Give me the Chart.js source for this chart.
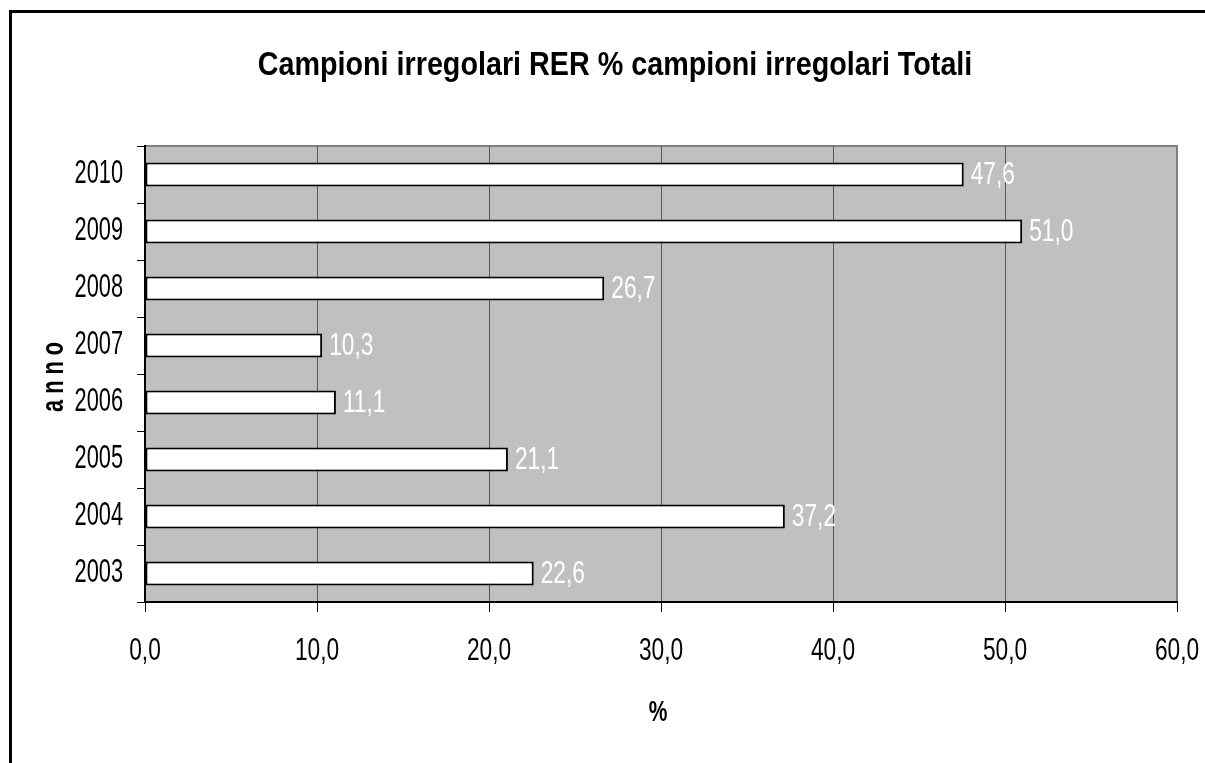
<!DOCTYPE html>
<html>
<head>
<meta charset="utf-8">
<script src="https://cdn.jsdelivr.net/npm/chart.js@4.4.1/dist/chart.umd.min.js"></script>
<style>
  html, body { margin: 0; padding: 0; background: #fff; overflow: hidden; }
  #wrap { position: relative; width: 1205px; height: 763px; overflow: hidden; }
  #frame { position: absolute; left: 9px; top: 10px; width: 1300px; height: 900px; border: 3px solid #000; pointer-events: none; }
</style>
</head>
<body>
<div id="wrap">
  <canvas id="chart" width="1205" height="763"></canvas>
  <div id="frame"></div>
</div>
<script>
// Data
const years = ['2003', '2004', '2005', '2006', '2007', '2008', '2009', '2010'];
const values = [22.6, 37.2, 21.1, 11.1, 10.3, 26.7, 51.0, 47.6];
const xTicks = [0, 10, 20, 30, 40, 50, 60];

const chartTitle = 'Campioni irregolari RER % campioni irregolari Totali';
const xTitle = '%';
const yTitle = 'a n n o';

const FONT = "'Liberation Sans', Arial, sans-serif";

function fmt(v) {
    return v.toFixed(1).replace('.', ',');
}

// draw text squeezed horizontally (the original uses a narrow font)
function narrowText(ctx, text, x, y, font, align, sx) {
    ctx.save();
    ctx.translate(x, y);
    ctx.scale(sx, 1);
    ctx.font = font;
    ctx.textAlign = align;
    ctx.textBaseline = 'alphabetic';
    ctx.fillText(text, 0, 0);
    ctx.restore();
}

// Gray plot area background
const plotBg = {
    id: 'plotBg',
    beforeDraw(chart) {
        const { ctx, chartArea: a } = chart;
        ctx.save();
        ctx.fillStyle = '#c0c0c0';
        ctx.fillRect(a.left, a.top, a.right - a.left, a.bottom - a.top);
        ctx.strokeStyle = '#808080';
        ctx.lineWidth = 2;
        ctx.strokeRect(a.left, a.top, a.right - a.left, a.bottom - a.top);
        ctx.restore();
    }
};

// All texts: title, tick labels, axis titles, value labels
const texts = {
    id: 'texts',
    afterDraw(chart) {
        const { ctx, chartArea: a } = chart;
        const xs = chart.scales.x, ys = chart.scales.y;
        ctx.save();
        ctx.fillStyle = '#000';

        // title
        narrowText(ctx, chartTitle, (a.left + a.right) / 2 - 46, 75, 'bold 34px ' + FONT, 'center', 0.845);

        // y tick labels
        years.forEach((y, i) => {
            narrowText(ctx, y, a.left - 22, ys.getPixelForValue(i) + 8, '33px ' + FONT, 'right', 0.66);
        });

        // x tick labels
        xTicks.forEach(v => {
            narrowText(ctx, fmt(v), xs.getPixelForValue(v), a.bottom + 58, '32px ' + FONT, 'center', 0.71);
        });

        // axis titles
        narrowText(ctx, xTitle, (a.left + a.right) / 2 - 3, a.bottom + 119, 'bold 30px ' + FONT, 'center', 0.7);
        ctx.save();
        ctx.translate(63, (a.top + a.bottom) / 2 + 3);
        ctx.rotate(-Math.PI / 2);
        narrowText(ctx, yTitle, 0, 0, 'bold 31px ' + FONT, 'center', 0.7);
        ctx.restore();

        // value labels
        ctx.fillStyle = '#ffffff';
        chart.getDatasetMeta(0).data.forEach((bar, i) => {
            narrowText(ctx, fmt(values[i]), bar.x + 7, bar.y + 9, '32px ' + FONT, 'left', 0.71);
        });
        ctx.restore();
    }
};

new Chart(document.getElementById('chart').getContext('2d'), {
    type: 'bar',
    data: {
        labels: years,
        datasets: [{
            data: values,
            backgroundColor: '#ffffff',
            borderColor: '#000000',
            borderWidth: 2,
            borderSkipped: false,
            barPercentage: 0.42,
            categoryPercentage: 1.0
        }]
    },
    options: {
        indexAxis: 'y',
        responsive: false,
        animation: false,
        layout: { padding: { left: 135, right: 28, top: 146, bottom: 151 } },
        plugins: {
            legend: { display: false },
            tooltip: { enabled: false },
            title: { display: false }
        },
        scales: {
            x: {
                min: 0,
                max: 60,
                afterBuildTicks(scale) {
                    scale.ticks = xTicks.map(v => ({ value: v }));
                },
                afterFit(scale) { scale.height = 10; },
                ticks: { display: false },
                grid: {
                    color: ctx => (ctx.tick && ctx.tick.value === 60 ? '#808080' : '#555555'),
                    lineWidth: 1,
                    tickColor: '#000',
                    tickLength: 10,
                    drawTicks: true
                },
                border: { display: true, color: '#000', width: 2 }
            },
            y: {
                reverse: true,
                afterFit(scale) { scale.width = 10; },
                ticks: { display: false },
                grid: {
                    offset: true,
                    drawOnChartArea: false,
                    tickColor: '#000',
                    tickLength: 8
                },
                border: { display: true, color: '#000', width: 2 }
            }
        }
    },
    plugins: [plotBg, texts]
});
</script>
</body>
</html>
